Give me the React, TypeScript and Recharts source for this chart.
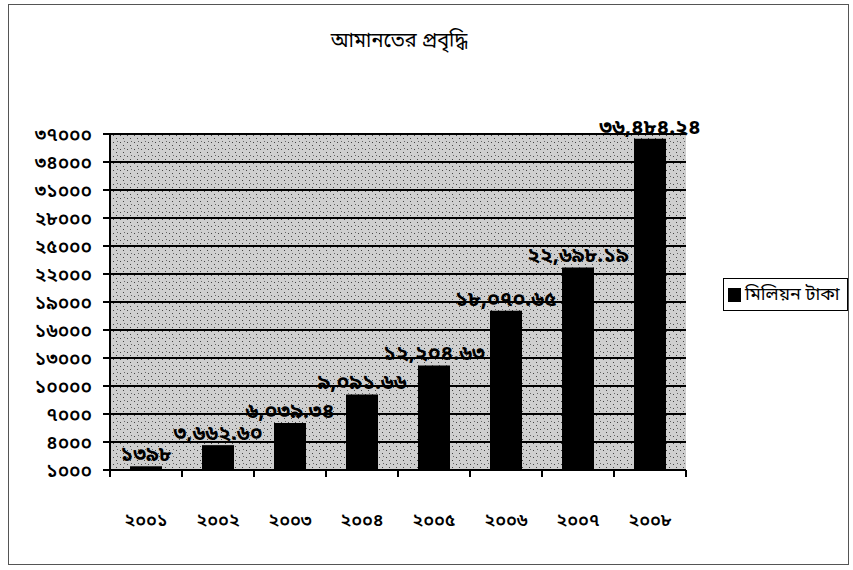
import React from 'react';
import { BarChart, Bar, XAxis, YAxis, CartesianGrid, LabelList, Legend } from 'recharts';

const years = ['২০০১', '২০০২', '২০০৩', '২০০৪', '২০০৫', '২০০৬', '২০০৭', '২০০৮'];
const deposits = [1398, 3662.6, 6039.34, 9091.66, 12204.63, 18070.65, 22698.19, 36484.24];
const depositLabels = ['১৩৯৮', '৩,৬৬২.৬০', '৬,০৩৯.৩৪', '৯,০৯১.৬৬', '১২,২০৪.৬৩', '১৮,০৭০.৬৫', '২২,৬৯৮.১৯', '৩৬,৪৮৪.২৪'];
const yTicks = [1000, 4000, 7000, 10000, 13000, 16000, 19000, 22000, 25000, 28000, 31000, 34000, 37000];
const title = 'আমানতের প্রবৃদ্ধি';
const seriesName = 'মিলিয়ন টাকা';

const data = years.map((y, i) => ({ year: y, value: deposits[i], label: depositLabels[i] }));

const BN = ['০', '১', '২', '৩', '৪', '৫', '৬', '৭', '৮', '৯'];
const toBn = (n: number) => String(n).replace(/\d/g, (d) => BN[Number(d)]);

const FONT = "'Noto Sans Bengali', 'Lohit Bengali', 'Noto Serif Bengali', 'FreeSerif', 'Noto Sans', sans-serif";

const PLOT_W = 576;

const XTick = (props: any) => {
  const { x, y, payload, index } = props;
  const bw = PLOT_W / years.length;
  return (
    <g>
      <line x1={x - bw / 2} x2={x - bw / 2} y1={y - 8} y2={y - 1} stroke="#000" strokeWidth={2} />
      {index === years.length - 1 && (
        <line x1={x + bw / 2} x2={x + bw / 2} y1={y - 8} y2={y - 1} stroke="#000" strokeWidth={2} />
      )}
      <text x={x} y={y + 48} textAnchor="middle" fontSize={18} fontWeight={600} fontFamily={FONT} fill="#000">
        {payload.value}
      </text>
    </g>
  );
};

const LegendBox = () => (
  <div
    style={{
      position: 'absolute',
      left: 723,
      top: 278,
      width: 125,
      height: 33,
      border: '1.5px solid #000',
      background: '#fff',
      display: 'flex',
      alignItems: 'center',
      fontFamily: FONT,
      fontSize: 18,
      color: '#000',
      boxSizing: 'border-box',
      whiteSpace: 'nowrap',
    }}
  >
    <span style={{ display: 'inline-block', width: 13, height: 14, background: '#000', marginLeft: 4, marginRight: 4, flexShrink: 0 }} />
    {seriesName}
  </div>
);

export default function App() {
  return (
    <div style={{ position: 'absolute', left: 0, top: 0, width: 853, height: 570, background: '#fff' }}>
      <div
        style={{
          position: 'absolute',
          left: 8,
          top: 4,
          width: 841,
          height: 561,
          border: '1px solid #555',
          boxSizing: 'border-box',
        }}
      />
      <div
        style={{
          position: 'absolute',
          left: 0,
          top: 29,
          width: 798,
          textAlign: 'center',
          fontFamily: FONT,
          fontSize: 20,
          color: '#000',
        }}
      >
        {title}
      </div>
      <div style={{ position: 'absolute', left: 0, top: 0 }}>
        <BarChart
          width={853}
          height={570}
          data={data}
          margin={{ top: 134, right: 167, bottom: 40, left: 10 }}
          barSize={32}
        >
          <defs>
            <pattern id="speckle" width="7" height="7" patternUnits="userSpaceOnUse">
              <rect width="7" height="7" fill="#cfcfcf" />
              <rect x="1" y="2" width="1" height="1" fill="#444" />
              <rect x="4" y="5" width="1" height="1" fill="#444" />
              <rect x="5" y="1" width="1" height="1" fill="#666" />
            </pattern>
          </defs>
          <CartesianGrid vertical={false} stroke="#000" strokeWidth={2} fill="url(#speckle)" fillOpacity={1} />
          <XAxis
            dataKey="year"
            height={60}
            axisLine={{ stroke: '#000', strokeWidth: 2 }}
            tickLine={false}
            tick={<XTick />}
            interval={0}
          />
          <YAxis
            width={100}
            domain={[1000, 37000]}
            ticks={yTicks}
            interval={0}
            allowDataOverflow
            axisLine={{ stroke: '#000', strokeWidth: 2 }}
            tickLine={{ stroke: '#000', strokeWidth: 2 }}
            tickSize={7}
            tickMargin={11}
            tickFormatter={(v: number) => toBn(v)}
            tick={{ fontSize: 19, fontWeight: 600, fontFamily: FONT, fill: '#000' }}
          />
          <YAxis
            yAxisId="right"
            orientation="right"
            width={0}
            domain={[1000, 37000]}
            tick={false}
            tickLine={false}
            axisLine={{ stroke: '#000', strokeWidth: 2 }}
          />
          <Legend content={<LegendBox />} wrapperStyle={{ position: 'absolute', left: 0, top: 0, width: 0, height: 0 }} />
          <Bar dataKey="value" name={seriesName} fill="#000" isAnimationActive={false}>
            <LabelList
              dataKey="label"
              position="top"
              offset={5}
              style={{ fontSize: 21, fontFamily: FONT, fill: '#000', fontWeight: 700 }}
            />
          </Bar>
        </BarChart>
      </div>
    </div>
  );
}
